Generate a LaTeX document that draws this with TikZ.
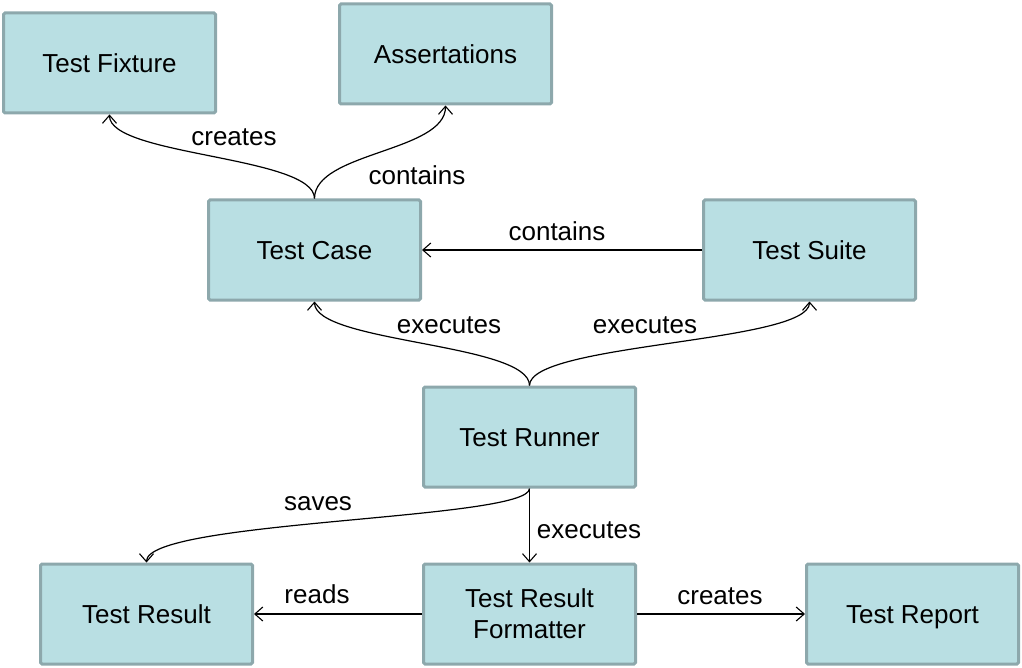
\documentclass[tikz,border=0pt]{standalone}
\usepackage{fontspec}
\setmainfont{Liberation Sans}
\usetikzlibrary{arrows.meta}
\definecolor{boxfill}{HTML}{B9DFE3}
\definecolor{boxline}{HTML}{8DA8AC}
\begin{document}
\begin{tikzpicture}[x=1pt,y=-1pt,
  box/.style={rectangle, fill=boxfill, draw=boxline, line width=3pt,
    rounded corners=1.5pt, minimum width=212pt, minimum height=100pt,
    inner sep=0pt, align=center, font=\fontsize{26}{31}\selectfont},
  one/.style={text height=19pt, text depth=0pt},
  lbl/.style={anchor=base, inner sep=0pt, font=\fontsize{26}{30}\selectfont},
  conn/.style={draw=black, line width=1.2pt, -{Straight Barb[length=8pt,width=14pt,line width=1.1pt]}}]
\useasboundingbox (0,0) rectangle (1022,668);
\node[box,one] (tf)  at (109.5,63)  {Test Fixture};
\node[box,one] (as)  at (445.5,54)  {Assertations};
\node[box,one] (tc)  at (314.5,250) {Test Case};
\node[box,one] (ts)  at (809.5,250) {Test Suite};
\node[box,one] (run) at (529.5,437) {Test Runner};
\node[box,one] (tr)  at (146.5,614) {Test Result};
\node[box] (trf) at (529.5,614) {Test Result\\Formatter};
\node[box,one] (rep) at (912.5,614) {Test Report};

\draw[conn] (tc.north) .. controls (314.5,156) and (109.5,156) .. (tf.south);
\draw[conn] (tc.north) .. controls (314.5,152) and (445.5,152) .. (as.south);
\draw[conn] (ts.west) -- (tc.east);
\draw[conn] (run.north) .. controls (529.5,343) and (314.5,343) .. (tc.south);
\draw[conn] (run.north) .. controls (529.5,343) and (809.5,343) .. (ts.south);
\draw[conn] (run.south) .. controls (529.5,520) and (146.5,520) .. (tr.north);
\draw[conn] (run.south) -- (trf.north);
\draw[conn] (trf.west) -- (tr.east);
\draw[conn] (trf.east) -- (rep.west);

\node[lbl] (l1) at (234,146) {creates};
\node[lbl] (l2) at (417,185) {contains};
\node[lbl] (l3) at (557,241) {contains};
\node[lbl] (l4) at (449,333) {executes};
\node[lbl] (l5) at (645,333) {executes};
\node[lbl] (l6) at (318,510) {saves};
\node[lbl] (l7) at (589,538) {executes};
\node[lbl] (l8) at (317,603) {reads};
\node[lbl] (l9) at (720,604) {creates};
\end{tikzpicture}
\end{document}
